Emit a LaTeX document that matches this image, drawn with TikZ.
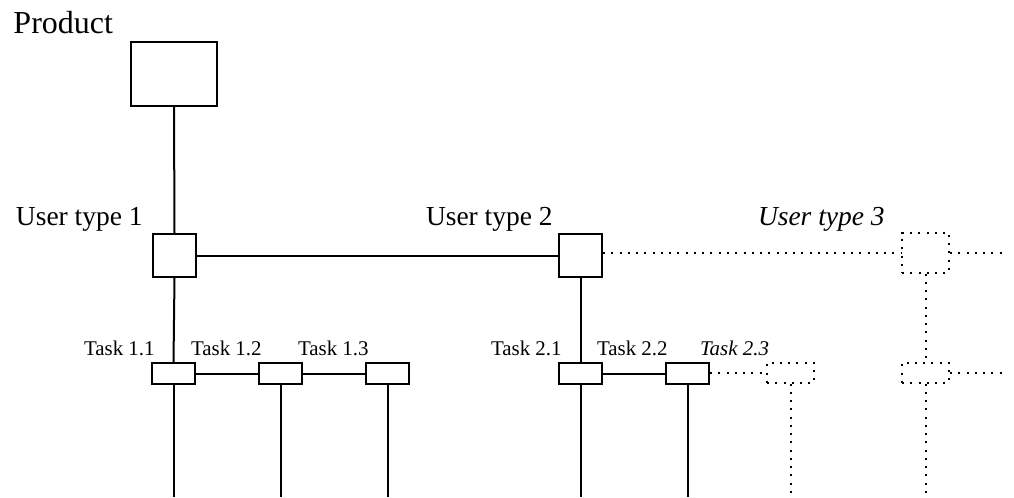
\documentclass[tikz,border=0pt]{standalone}
\usepackage{fontspec}
\setmainfont{Liberation Serif}
\begin{document}
\begin{tikzpicture}[x=0.75pt,y=-0.75pt,
  line width=1.5pt,
  box/.style={draw,line width=1.5pt,inner sep=0pt,minimum width=32.25pt},
  ubox/.style={box,minimum height=32.25pt},
  tbox/.style={box,minimum height=15.75pt},
  dbox/.style={draw,line width=1.5pt,inner sep=0pt,dash pattern=on 1.5pt off 4.7pt,minimum width=35.25pt},
  dotline/.style={dash pattern=on 1.5pt off 4.7pt},
  big/.style={anchor=base west,inner sep=0pt,font=\fontsize{24}{28}\selectfont},
  mid/.style={anchor=base west,inner sep=0pt,font=\fontsize{20.6}{24}\selectfont},
  small/.style={anchor=base west,inner sep=0pt,font=\fontsize{15.7}{18}\selectfont}]
\useasboundingbox (0,0) rectangle (1014,497);
% boxes
\node[box,minimum width=64.5pt,minimum height=48pt] (prod) at (174,74) {};
\node[ubox] (ut1) at (174.5,255.5) {};
\node[ubox] (ut2) at (580.5,255.5) {};
\node[dbox,minimum height=30pt] (ut3) at (925.5,252.5) {};
\node[tbox] (t11) at (173.5,373.5) {};
\node[tbox] (t12) at (280.5,373.5) {};
\node[tbox] (t13) at (387.5,373.5) {};
\node[tbox] (t21) at (580.5,373.5) {};
\node[tbox] (t22) at (687.5,373.5) {};
\node[dbox,minimum height=15pt] (t23) at (790.5,372.5) {};
\node[dbox,minimum height=15pt] (t31) at (925.5,372.5) {};
% labels
\node[big] (lprod) at (12.5,33) {Product};
\node[mid] (lut1) at (15,225.5) {User type 1};
\node[mid] (lut2) at (425,225.5) {User type 2};
\node[mid] (lut3) at (757,225.5) {\itshape User type 3};
\node[small] (l11) at (83,355) {Task 1.1};
\node[small] (l12) at (190,355) {Task 1.2};
\node[small] (l13) at (297,355) {Task 1.3};
\node[small] (l21) at (490,355) {Task 2.1};
\node[small] (l22) at (596,355) {Task 2.2};
\node[small] (l23) at (699,355) {\itshape Task 2.3};
% free ends
\coordinate (e3) at (1005,252.5);
\coordinate (e31) at (1005,372.5);
\coordinate (b11) at (173.5,497);
\coordinate (b12) at (280.5,497);
\coordinate (b13) at (387.5,497);
\coordinate (b21) at (580.5,497);
\coordinate (b22) at (687.5,497);
\coordinate (b23) at (790.5,497);
\coordinate (b31) at (925.5,497);
% connectors
\draw (prod.south) -- (ut1.north);
\draw (ut1.east) -- (ut2.west);
\draw (ut1.south) -- (t11.north);
\draw (ut2.south) -- (t21.north);
\draw (t11.east) -- (t12.west);
\draw (t12.east) -- (t13.west);
\draw (t21.east) -- (t22.west);
\draw (t11.south) -- (b11);
\draw (t12.south) -- (b12);
\draw (t13.south) -- (b13);
\draw (t21.south) -- (b21);
\draw (t22.south) -- (b22);
\draw[dotline] (ut2.east |- ut3.west) -- (ut3.west);
\draw[dotline] (ut3.east) -- (e3);
\draw[dotline] (ut3.south) -- (t31.north);
\draw[dotline] (t31.east) -- (e31);
\draw[dotline] (t22.east |- t23.west) -- (t23.west);
\draw[dotline] (t23.south) -- (b23);
\draw[dotline] (t31.south) -- (b31);
\end{tikzpicture}
\end{document}
